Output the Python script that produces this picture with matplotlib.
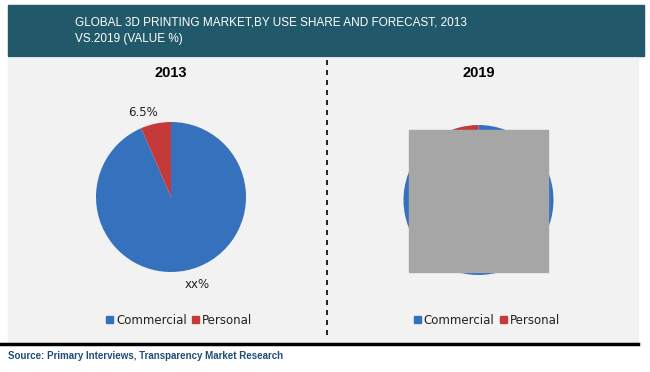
import matplotlib.pyplot as plt
from matplotlib.patches import Rectangle

years = ["2013", "2019"]
segments = ["Commercial", "Personal"]
commercial = [93.5, 92.0]
personal = [6.5, 8.0]
colors = ["#3571BC", "#C43A3B"]

W, H = 650, 372
fig = plt.figure(figsize=(W / 100, H / 100), dpi=100)
fig.patch.set_facecolor("white")

def px(x, y, w, h):
    # pixel box (top-left origin) -> figure fraction
    return [x / W, 1 - (y + h) / H, w / W, h / H]

bg = fig.add_axes([0, 0, 1, 1])
bg.set_xlim(0, W)
bg.set_ylim(H, 0)
bg.axis("off")
bg.add_patch(Rectangle((8, 5), 636, 51, color="#22596A"))
bg.add_patch(Rectangle((8, 58), 630, 284, color="#F2F2F2"))
bg.plot([0, 638], [344, 344], color="black", lw=2.5)
bg.plot([327, 327], [60, 340], color="black", lw=1.2, ls=(0, (3, 3)))
bg.text(75, 31, "GLOBAL 3D PRINTING MARKET,BY USE SHARE AND FORECAST, 2013\nVS.2019 (VALUE %)",
        color="white", fontsize=8.5, family="Liberation Sans",
        va="center", ha="left", linespacing=1.5)
bg.text(8, 356, "Source: Primary Interviews, Transparency Market Research", color="#1F4E79",
        fontsize=7, fontweight="bold", family="Liberation Sans", va="center")

centers = [(171, 197), (478.5, 200)]
for i, yr in enumerate(years):
    cx, cy = centers[i]
    ax = fig.add_axes(px(cx - 75, cy - 75, 150, 150))
    ax.pie([commercial[i], personal[i]], colors=colors, startangle=90, counterclock=False,
           radius=1, wedgeprops=dict(linewidth=0))
    ax.set_xlim(-1, 1)
    ax.set_ylim(-1, 1)
    ax.set_aspect("equal")
    bg.text(cx, 73, yr, ha="center", va="center", fontsize=10.5, fontweight="bold",
            family="Liberation Sans")
    # legend
    lx = cx - 65
    bg.add_patch(Rectangle((lx, 316), 7, 7, color=colors[0]))
    bg.text(lx + 10, 320, segments[0], va="center", fontsize=8.5, color="#222222")
    bg.add_patch(Rectangle((lx + 86, 316), 7, 7, color=colors[1]))
    bg.text(lx + 96, 320, segments[1], va="center", fontsize=8.5, color="#222222")

bg.text(143, 112, "%.1f%%" % personal[0], ha="center", va="center", fontsize=8.5, color="#222222")
bg.text(197, 284, "xx%", ha="center", va="center", fontsize=8.5, color="#222222")

# grey box covering the 2019 pie
fig.add_artist(Rectangle((409 / W, 1 - 272 / H), 139 / W, 142 / H, color="#A6A6A6",
                         transform=fig.transFigure, zorder=10))

fig.savefig("out.png", dpi=100)
